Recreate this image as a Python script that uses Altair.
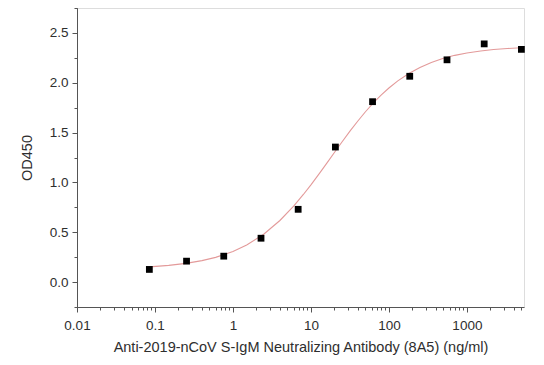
import altair as alt
import pandas as pd

# Measured points (3-fold dilution series)
conc = [0.0847, 0.254, 0.762, 2.29, 6.86, 20.6, 61.7, 185, 556, 1667, 5000]
od = [0.127, 0.21, 0.26, 0.44, 0.73, 1.355, 1.81, 2.065, 2.23, 2.39, 2.335]

# Fitted curve
curve_x = [0.085, 0.15, 0.25, 0.4, 0.6, 1, 1.5, 2.5, 4, 6, 8, 10, 13, 16, 20, 25, 32,
           40, 50, 65, 80, 100, 130, 180, 250, 350, 500, 700, 1000, 1500, 2200, 3300, 5000]
curve_y = [0.153, 0.168, 0.188, 0.215, 0.248, 0.307, 0.372, 0.483, 0.618, 0.762, 0.879,
           0.976, 1.096, 1.194, 1.300, 1.406, 1.519, 1.616, 1.709, 1.807, 1.879, 1.947,
           2.019, 2.093, 2.153, 2.204, 2.245, 2.275, 2.299, 2.319, 2.333, 2.344, 2.351]

x_ticks = [m * 10 ** k for k in range(-2, 4) for m in range(1, 10) if m * 10 ** k <= 5400]
y_major = [0.0, 0.5, 1.0, 1.5, 2.0, 2.5]
y_minor = [-0.25, 0.25, 0.75, 1.25, 1.75, 2.25, 2.75]

pts = pd.DataFrame({"conc": conc, "od": od})
crv = pd.DataFrame({"conc": curve_x, "od": curve_y})

FONT = "Liberation Sans"
TXT = "#2e2e2e"
AX = "#555555"
is_decade = "abs(log(datum.value)/LN10 - round(log(datum.value)/LN10)) < 0.001"

xscale = alt.Scale(type="log", domain=[0.01, 5400], nice=False)
yscale = alt.Scale(domain=[-0.25, 2.75], nice=False, zero=False)

xaxis = alt.Axis(
    title="Anti-2019-nCoV S-IgM Neutralizing Antibody (8A5) (ng/ml)",
    values=x_ticks,
    labelExpr=f"{is_decade} ? format(datum.value, '~g') : ''",
    tickSize={"condition": {"test": is_decade, "value": 5}, "value": 3},
    grid=False, domainColor=AX, tickColor=AX,
    labelFont=FONT, labelFontSize=13.5, labelColor=TXT, labelPadding=6,
    titleFont=FONT, titleFontSize=14.5, titleFontWeight="normal", titleColor=TXT,
    titlePadding=9, labelFlush=False, labelOverlap=False,
)
yaxis = alt.Axis(
    title="OD450",
    orient="left",
    values=y_major,
    format=".1f",
    tickSize=5,
    grid=False, domainColor=AX, tickColor=AX,
    labelFont=FONT, labelFontSize=13.5, labelColor=TXT, labelPadding=4,
    titleFont=FONT, titleFontSize=14.5, titleFontWeight="normal", titleColor=TXT,
    titlePadding=15, labelFlush=False, labelOverlap=False,
)
yaxis_minor = alt.Axis(
    title=None,
    orient="left",
    values=y_minor,
    labels=False,
    tickSize=3,
    grid=False, domainColor=AX, tickColor=AX,
)

line = alt.Chart(crv).mark_line(color="#e39a9a", strokeWidth=1.1).encode(
    x=alt.X("conc:Q", scale=xscale, axis=xaxis),
    y=alt.Y("od:Q", scale=yscale, axis=yaxis),
)
points = alt.Chart(pts).mark_square(color="#000000", size=46, opacity=1).encode(
    x=alt.X("conc:Q", scale=xscale),
    y=alt.Y("od:Q", scale=yscale, axis=yaxis_minor),
)

chart = alt.layer(line, points).resolve_axis(y="independent").properties(
    width=447, height=299,
    padding={"left": 69, "top": 0, "right": 12, "bottom": 50},
    autosize=alt.AutoSizeParams(type="none"),
).configure_view(stroke=None).configure(background="white")

chart.save("out.html", embed_options={"renderer": "svg", "actions": False})
